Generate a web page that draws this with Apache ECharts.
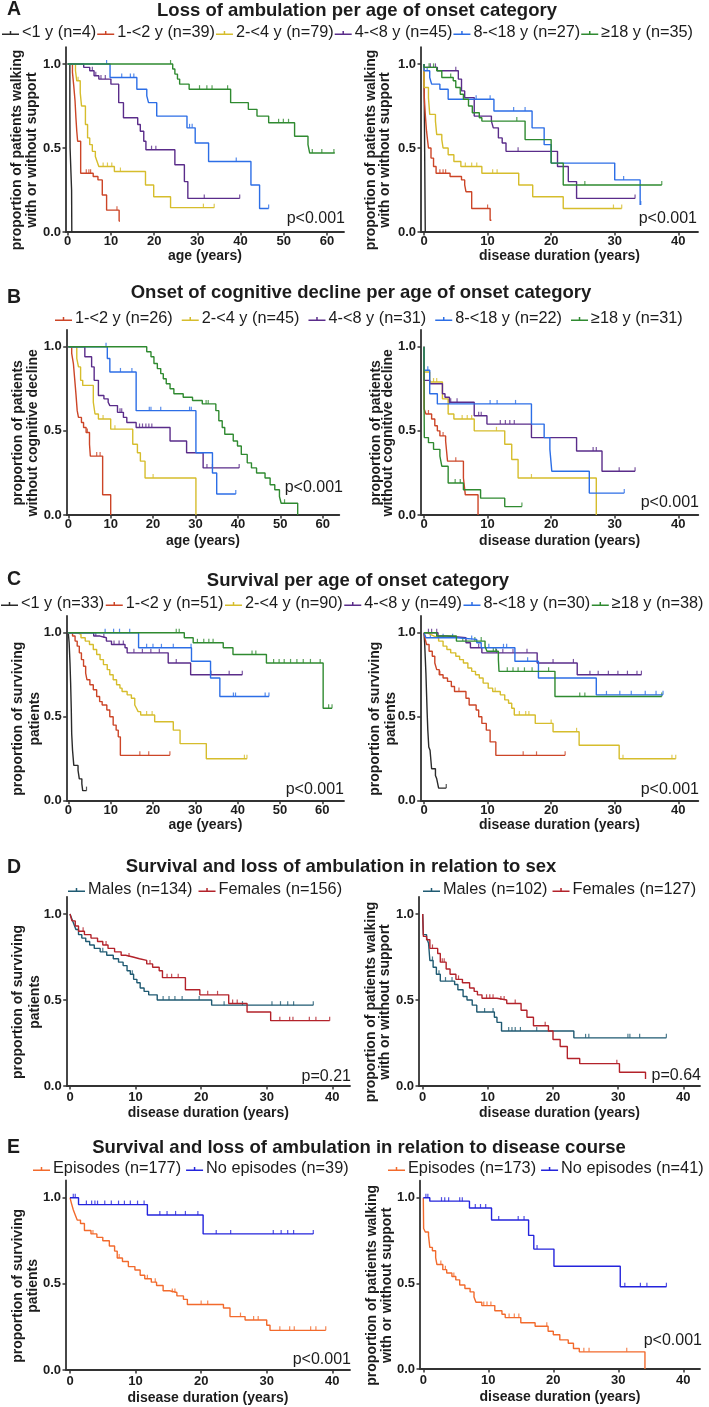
<!DOCTYPE html>
<html><head><meta charset="utf-8">
<script src="https://cdn.jsdelivr.net/npm/echarts@6/dist/echarts.min.js"></script>
<style>html,body{margin:0;padding:0;background:#fff}#c{width:709px;height:1407px}</style>
</head><body><div id="c"></div>
<script>
// ---------------- DATA ----------------
// legend labels
const namesA = ['<1 y (n=4)','1-<2 y (n=39)','2-<4 y (n=79)','4-<8 y (n=45)','8-<18 y (n=27)','\u226518 y (n=35)'];
const namesB = ['1-<2 y (n=26)','2-<4 y (n=45)','4-<8 y (n=31)','8-<18 y (n=22)','\u226518 y (n=31)'];
const namesC = ['<1 y (n=33)','1-<2 y (n=51)','2-<4 y (n=90)','4-<8 y (n=49)','8-<18 y (n=30)','\u226518 y (n=38)'];
const namesDL = ['Males (n=134)','Females (n=156)'];
const namesDR = ['Males (n=102)','Females (n=127)'];
const namesEL = ['Episodes (n=177)','No episodes (n=39)'];
const namesER = ['Episodes (n=173)','No episodes (n=41)'];
const ageTicks = [0,10,20,30,40,50,60];
const durTicks = [0,10,20,30,40];
const yTicks = [0,0.5,1];

// A - age (loss of ambulation)
const aAge_lt1 = [[0,1],[0.5,0.75],[0.55,0.5],[0.9,0.25],[0.95,0]];
const aAge_lt1_c = [];
const aAge_1to2 = [[0,1],[1.1,0.95],[1.4,0.87],[1.7,0.78],[1.9,0.68],[2.1,0.6],[2.3,0.54],[3.0,0.35],[5.9,0.33],[7.0,0.31],[8.0,0.22],[9.0,0.13],[11.9,0.065],[12.1,0.065]];
const aAge_1to2_c = [4.3,4.9,5.3,11.4];
const aAge_2to4 = [[0,1],[1.8,0.96],[2.1,0.9],[2.9,0.83],[3.2,0.75],[4.1,0.64],[4.6,0.56],[5.1,0.52],[5.7,0.48],[6.4,0.45],[6.8,0.42],[7.2,0.39],[10.8,0.36],[18.0,0.28],[19.9,0.21],[23.8,0.145],[33.9,0.145]];
const aAge_2to4_c = [2.4,8.2,9.2,10.2,12.2,31.4,33.9];
const aAge_4to8 = [[0,1],[3.7,0.98],[5.1,0.96],[6.1,0.93],[7.2,0.91],[10.0,0.88],[11.8,0.77],[12.9,0.68],[16.2,0.64],[16.8,0.6],[17.6,0.54],[18.1,0.49],[24.8,0.4],[27.0,0.3],[27.8,0.2],[39.8,0.2]];
const aAge_4to8_c = [5.7,6.5,7.7,8.7,19.4,20.4,31.6,39.8];
const aAge_8to18 = [[0,1],[9.8,0.92],[16.0,0.85],[18.3,0.81],[18.7,0.77],[20.6,0.69],[27.6,0.62],[29.5,0.53],[32.6,0.42],[42.4,0.28],[44.4,0.14],[46.5,0.14]];
const aAge_8to18_c = [9.0,12.5,14.5,15.3,28.2,28.8,39.0,46.5];
const aAge_ge18 = [[0,1],[24.3,0.97],[24.8,0.94],[25.4,0.91],[25.9,0.88],[28.1,0.85],[37.7,0.77],[41.8,0.73],[43.8,0.69],[46.5,0.65],[52.5,0.57],[55.6,0.52],[56.0,0.47],[61.8,0.47]];
const aAge_ge18_c = [23.8,30.5,32.2,33.4,37.0,48.8,49.9,51.1,56.6,58.8,61.6];

// A - disease duration
const aDur_lt1 = [[0,1],[0.05,0.75],[0.1,0.5],[0.15,0.25],[0.2,0]];
const aDur_lt1_c = [];
const aDur_1to2 = [[0,1],[0.05,0.8],[0.2,0.7],[0.4,0.6],[0.7,0.5],[1.1,0.44],[1.5,0.39],[1.9,0.35],[4.1,0.33],[5.9,0.31],[6.4,0.28],[6.6,0.24],[7.5,0.14],[10.4,0.07],[10.6,0.07]];
const aDur_1to2_c = [2.5,3.0,3.4,10.0];
const aDur_2to4 = [[0,1],[0.02,0.86],[0.7,0.8],[0.9,0.7],[1.8,0.66],[2.0,0.58],[2.8,0.55],[3.0,0.5],[3.8,0.46],[4.7,0.42],[5.8,0.39],[9.1,0.35],[14.9,0.28],[17.1,0.21],[21.9,0.14],[31.1,0.14]];
const aDur_2to4_c = [6.5,7.5,8.3,10.8,11.5,29.8,31.1];
const aDur_4to8 = [[0,1],[0.02,0.98],[2.1,0.96],[5.4,0.91],[5.9,0.84],[6.4,0.8],[7.9,0.69],[10.6,0.66],[10.9,0.62],[11.7,0.56],[12.3,0.53],[12.9,0.48],[21.0,0.39],[22.7,0.3],[24.0,0.2],[33.2,0.2]];
const aDur_4to8_c = [1.0,1.8,5.0,14.8,33.2];
const aDur_8to18 = [[0,1],[0.02,0.96],[0.9,0.92],[1.2,0.88],[2.5,0.85],[3.8,0.79],[11.0,0.72],[17.0,0.62],[18.9,0.52],[20.0,0.41],[30.0,0.31],[34.0,0.16],[34.1,0.16]];
const aDur_8to18_c = [0.5,8.2,10.4,14.1,15.9,31.4,34.1];
const aDur_ge18 = [[0,1],[0.02,0.98],[2.0,0.96],[2.8,0.92],[4.6,0.9],[5.0,0.86],[5.7,0.82],[6.2,0.79],[7.0,0.75],[7.6,0.71],[8.7,0.68],[9.1,0.66],[15.9,0.55],[20.0,0.41],[21.9,0.28],[37.4,0.28]];
const aDur_ge18_c = [0.8,1.5,4.2,14.6,25.3,37.4];

// B - age (cognitive decline)
const bAge_1to2 = [[0,1],[0.8,0.96],[1.2,0.9],[1.5,0.81],[1.8,0.72],[2.1,0.62],[2.4,0.58],[3.1,0.55],[3.6,0.52],[4.2,0.49],[5.0,0.42],[5.2,0.35],[8.1,0.12],[10.0,0]];
const bAge_1to2_c = [4.5,6.7,7.5];
const bAge_2to4 = [[0,1],[2.0,0.93],[2.4,0.88],[2.9,0.8],[3.4,0.77],[5.9,0.67],[6.3,0.6],[7.1,0.57],[10.0,0.51],[15.2,0.42],[16.3,0.37],[17.0,0.32],[18.1,0.22],[30.1,0]];
const bAge_2to4_c = [8.2,11.0,20.0];
const bAge_4to8 = [[0,1],[3.9,0.94],[5.5,0.88],[6.1,0.8],[7.1,0.71],[8.4,0.69],[9.4,0.67],[9.8,0.65],[11.6,0.61],[13.0,0.58],[13.8,0.55],[16.0,0.52],[24.0,0.44],[27.9,0.37],[31.8,0.28],[40.3,0.28]];
const bAge_4to8_c = [12.2,12.6,16.8,17.5,18.3,19.0,19.7,32.7,34.0,40.3];
const bAge_8to18 = [[0,1],[9.2,0.93],[9.8,0.85],[16.0,0.62],[30.1,0.37],[34.0,0.25],[35.0,0.125],[39.5,0.125]];
const bAge_8to18_c = [8.9,12.3,15.0,19.1,19.5,21.8,28.6,29.0,39.5];
const bAge_ge18 = [[0,1],[18.5,0.97],[19.5,0.94],[20.2,0.9],[21.0,0.87],[21.8,0.84],[22.4,0.81],[23.1,0.78],[24.0,0.75],[24.9,0.72],[27.1,0.7],[29.3,0.68],[31.6,0.66],[34.8,0.62],[35.5,0.56],[36.3,0.52],[36.9,0.48],[38.9,0.44],[39.9,0.41],[40.8,0.36],[42.2,0.31],[43.2,0.28],[44.4,0.25],[46.4,0.22],[47.6,0.18],[48.7,0.15],[49.8,0.11],[50.2,0.07],[54.1,0]];
const bAge_ge18_c = [32.5,33.0,51.0];

// B - disease duration
const bDur_1to2 = [[0,1],[0.02,0.63],[0.3,0.6],[1.2,0.57],[1.7,0.53],[2.1,0.5],[2.5,0.47],[3.4,0.44],[3.7,0.32],[6.2,0.22],[6.5,0.12],[8.5,0]];
const bDur_1to2_c = [0.7,3.0,5.0];
const bDur_2to4 = [[0,1],[0.02,0.85],[0.9,0.79],[2.9,0.69],[3.8,0.6],[4.7,0.57],[7.9,0.5],[12.7,0.42],[13.8,0.33],[14.8,0.22],[27.1,0]];
const bDur_2to4_c = [1.5,2.0,6.0,6.8,7.5,11.4,16.9];
const bDur_4to8 = [[0,1],[0.02,0.8],[0.9,0.78],[2.9,0.72],[3.3,0.7],[4.0,0.67],[7.9,0.59],[9.9,0.54],[16.9,0.46],[24.0,0.38],[28.0,0.26],[33.2,0.26]];
const bDur_4to8_c = [4.2,5.2,8.6,9.0,12.0,12.8,13.5,14.2,26.6,27.1,30.7,33.2];
const bDur_8to18 = [[0,1],[0.02,0.86],[0.9,0.72],[2.1,0.66],[16.9,0.54],[18.9,0.46],[19.8,0.39],[20.1,0.26],[26.0,0.13],[31.5,0.13]];
const bDur_8to18_c = [0.6,4.0,10.4,11.5,14.4,31.5];
const bDur_ge18 = [[0,1],[0.02,0.62],[0.05,0.46],[0.7,0.43],[1.5,0.39],[2.5,0.35],[2.8,0.29],[3.8,0.19],[6.2,0.15],[8.9,0.1],[12.7,0.05],[15.4,0.05]];
const bDur_ge18_c = [4.9,5.7,15.4];

// C - age (survival)
const cAge_lt1 = [[0,1],[0.2,0.94],[0.4,0.82],[0.55,0.7],[0.7,0.55],[0.8,0.4],[1.0,0.3],[1.3,0.21],[2.3,0.18],[2.6,0.13],[3.2,0.1],[3.4,0.06],[4.3,0.06]];
const cAge_lt1_c = [4.3];
const cAge_1to2 = [[0,1],[1.0,0.98],[1.6,0.95],[2.1,0.92],[2.6,0.88],[3.1,0.84],[3.6,0.8],[4.1,0.76],[4.4,0.72],[5.1,0.69],[5.9,0.66],[6.7,0.62],[7.4,0.59],[8.0,0.57],[9.1,0.54],[9.8,0.5],[10.6,0.45],[11.3,0.42],[11.8,0.38],[12.3,0.27],[24.0,0.27]];
const cAge_1to2_c = [16.9,19.0,24.0];
const cAge_2to4 = [[0,1],[2.0,0.99],[3.0,0.97],[4.0,0.95],[5.0,0.93],[5.9,0.9],[6.7,0.87],[7.5,0.84],[8.3,0.81],[9.2,0.78],[9.8,0.75],[10.6,0.72],[11.4,0.69],[12.2,0.67],[12.7,0.65],[13.9,0.63],[14.9,0.61],[15.7,0.57],[16.1,0.55],[16.5,0.53],[17.1,0.51],[20.4,0.47],[24.8,0.42],[26.4,0.34],[32.6,0.25],[42.2,0.25]];
const cAge_2to4_c = [18.5,19.8,41.6,42.2];
const cAge_4to8 = [[0,1],[6.0,0.98],[7.5,0.97],[9.0,0.95],[10.2,0.93],[13.4,0.91],[13.9,0.88],[23.6,0.82],[28.9,0.75],[41.1,0.75]];
const cAge_4to8_c = [6.5,8.4,10.8,12.0,13.0,15.5,17.5,19.5,21.5,25.5,33.7,38.0,41.1];
const cAge_8to18 = [[0,1],[16.6,0.91],[29.1,0.83],[33.6,0.73],[35.8,0.62],[47.4,0.62]];
const cAge_8to18_c = [8.7,10.7,12.1,14.5,18.5,20.0,22.0,24.8,29.0,39.0,39.5,46.5,47.4];
const cAge_ge18 = [[0,1],[27.4,0.97],[29.5,0.94],[36.6,0.91],[38.9,0.87],[46.8,0.82],[60.2,0.55],[62.3,0.55]];
const cAge_ge18_c = [25.5,26.2,30.5,32.0,33.2,34.2,43.4,44.3,48.5,49.8,51.0,52.5,54.0,55.5,57.2,59.5,61.5,62.3];

// C - disease duration
const cDur_lt1 = [[0,1],[0.1,0.94],[0.2,0.85],[0.3,0.76],[0.4,0.64],[0.5,0.52],[0.6,0.42],[0.75,0.32],[0.95,0.3],[1.2,0.19],[1.8,0.15],[2.0,0.13],[2.3,0.075],[3.5,0.075]];
const cDur_lt1_c = [3.5];
const cDur_1to2 = [[0,1],[0.2,0.96],[0.4,0.93],[0.8,0.89],[1.3,0.86],[1.7,0.82],[2.0,0.78],[2.4,0.75],[3.0,0.73],[3.7,0.71],[4.3,0.68],[4.8,0.65],[6.6,0.61],[7.1,0.57],[8.2,0.54],[8.6,0.5],[9.1,0.46],[9.8,0.42],[10.4,0.35],[11.3,0.27],[22.2,0.27]];
const cDur_1to2_c = [2.5,5.5,15.6,17.7,22.2];
const cDur_2to4 = [[0,1],[0.5,0.99],[1.0,0.98],[1.6,0.97],[2.3,0.95],[3.0,0.92],[3.6,0.9],[4.2,0.88],[5.0,0.86],[5.6,0.84],[6.2,0.82],[6.9,0.79],[7.5,0.77],[8.1,0.75],[8.7,0.73],[9.3,0.7],[10.1,0.67],[10.8,0.65],[12.0,0.63],[12.7,0.6],[13.3,0.58],[13.8,0.55],[14.2,0.51],[17.5,0.46],[20.3,0.41],[24.4,0.33],[30.7,0.25],[39.6,0.25]];
const cDur_2to4_c = [11.2,15.0,16.0,16.5,20.0,24.0,31.3,39.0,39.6];
const cDur_4to8 = [[0,1],[2.2,0.98],[3.6,0.97],[6.6,0.94],[7.3,0.91],[9.1,0.88],[17.8,0.82],[24.1,0.75],[34.2,0.75]];
const cDur_4to8_c = [0.7,1.2,2.0,8.6,11.4,12.4,14.0,16.2,20.3,23.5,26.1,27.4,29.0,30.5,32.0,33.5,34.2];
const cDur_8to18 = [[0,1],[0.3,0.97],[5.2,0.96],[8.3,0.94],[9.0,0.91],[14.3,0.83],[18.0,0.73],[27.1,0.63],[37.6,0.63]];
const cDur_8to18_c = [1.0,2.0,3.0,4.5,7.5,10.2,12.5,13.0,16.3,28.7,30.8,32.6,34.8,36.5,37.6];
const cDur_ge18 = [[0,1],[2.0,0.98],[5.1,0.95],[9.6,0.92],[9.9,0.89],[11.7,0.84],[11.8,0.77],[20.6,0.62],[37.4,0.62]];
const cDur_ge18_c = [6.1,8.0,9.0,10.9,11.3,13.1,14.0,14.8,15.8,17.0,19.6,24.5,25.3,37.4];

// D - survival by sex
const dSurv_m = [[0,1],[0.3,0.97],[0.6,0.94],[0.9,0.91],[1.3,0.88],[1.8,0.86],[2.4,0.84],[3.0,0.82],[3.7,0.8],[4.6,0.78],[5.6,0.76],[6.6,0.74],[7.4,0.72],[8.1,0.7],[8.7,0.67],[9.2,0.65],[9.7,0.62],[10.2,0.6],[10.7,0.57],[11.3,0.55],[12.0,0.53],[13.3,0.5],[21.6,0.47],[37.1,0.47]];
const dSurv_m_c = [5.0,9.5,14.2,15.1,16.0,17.1,19.7,23.5,26.3,30.8,32.1,33.2,34.1,37.1];
const dSurv_f = [[0,1],[0.3,0.96],[0.8,0.93],[1.3,0.9],[2.2,0.88],[3.2,0.86],[4.2,0.84],[5.0,0.82],[5.8,0.8],[6.8,0.78],[7.8,0.76],[8.5,0.75],[9.6,0.74],[10.6,0.73],[11.7,0.71],[12.6,0.69],[13.6,0.67],[14.1,0.63],[17.6,0.56],[19.8,0.53],[24.2,0.48],[27.0,0.43],[30.6,0.38],[39.6,0.38]];
const dSurv_f_c = [2.0,5.5,9.0,12.2,14.8,15.5,16.5,21.0,22.5,24.8,25.5,32.0,33.5,34.0,36.5,37.5,39.6];
// D - ambulation by sex
const dAmb_m = [[0,1],[0.1,0.88],[0.6,0.86],[0.9,0.83],[1.1,0.73],[1.6,0.69],[2.1,0.65],[2.7,0.61],[4.9,0.59],[5.4,0.56],[6.2,0.52],[6.8,0.5],[7.6,0.47],[8.3,0.43],[11.0,0.4],[11.4,0.37],[12.1,0.32],[23.2,0.28],[37.4,0.28]];
const dAmb_m_c = [1.5,2.5,3.5,4.5,9.5,10.8,13.2,13.7,14.2,15.0,17.5,25.0,25.5,31.5,31.8,33.3,37.4];
const dAmb_f = [[0,1],[0.1,0.87],[0.6,0.85],[1.1,0.8],[2.3,0.77],[2.7,0.72],[3.6,0.68],[4.2,0.65],[5.1,0.62],[6.1,0.6],[7.2,0.57],[7.9,0.55],[8.4,0.53],[9.1,0.51],[11.4,0.5],[12.9,0.48],[15.1,0.44],[16.0,0.4],[17.0,0.35],[19.3,0.32],[20.0,0.27],[21.1,0.23],[22.2,0.16],[24.1,0.13],[30.2,0.08],[34.2,0.04],[34.3,0.04]];
const dAmb_f_c = [1.5,3.0,3.3,5.5,9.8,10.3,10.8,12.0,12.5,14.2,18.8,29.8];

// E - survival by disease course
const eSurv_epi = [[0,1],[0.2,0.97],[0.5,0.93],[0.8,0.9],[1.1,0.87],[1.6,0.85],[2.2,0.81],[3.2,0.79],[4.1,0.77],[5.0,0.75],[6.0,0.72],[6.8,0.69],[7.2,0.65],[8.0,0.63],[8.9,0.6],[9.9,0.58],[10.7,0.55],[11.4,0.53],[12.4,0.51],[13.2,0.49],[14.2,0.46],[15.2,0.45],[16.3,0.43],[17.3,0.41],[17.9,0.38],[23.4,0.36],[24.4,0.31],[26.7,0.29],[30.0,0.26],[30.5,0.23],[39.0,0.23]];
const eSurv_epi_c = [3.5,7.5,11.8,13.0,15.6,16.0,20.0,21.0,26.0,28.0,28.7,32.0,33.5,34.2,36.7,37.5,39.0];
const eSurv_noepi = [[0,1],[1.3,0.96],[11.8,0.9],[20.3,0.79],[37.1,0.79]];
const eSurv_noepi_c = [0.5,0.8,2.5,3.3,3.8,4.2,5.3,6.3,7.4,8.3,9.2,10.3,11.3,13.7,14.8,16.1,17.6,19.5,22.3,24.5,31.0,32.2,33.2,34.1,37.1];
// E - ambulation by disease course
const eAmb_epi = [[0,1],[0.05,0.82],[0.3,0.8],[0.8,0.78],[1.0,0.71],[1.4,0.69],[1.9,0.65],[2.1,0.61],[3.0,0.58],[3.6,0.56],[4.4,0.54],[5.0,0.52],[5.6,0.49],[6.4,0.47],[7.2,0.45],[7.8,0.42],[8.1,0.39],[9.0,0.37],[11.0,0.34],[12.1,0.32],[12.6,0.3],[15.0,0.27],[17.2,0.25],[19.2,0.22],[20.0,0.2],[21.0,0.17],[22.3,0.15],[23.1,0.12],[24.0,0.1],[34.1,0]];
const eAmb_epi_c = [2.7,3.4,4.7,9.3,9.8,10.4,13.2,14.0,14.7,19.0,24.7,25.5,31.3];
const eAmb_noepi = [[0,1],[1.0,0.98],[7.1,0.94],[10.5,0.87],[16.2,0.78],[17.0,0.7],[20.1,0.6],[30.3,0.48],[37.4,0.48]];
const eAmb_noepi_c = [0.4,0.7,2.8,3.3,3.9,5.6,6.0,8.0,8.8,9.6,11.6,14.6,15.5,17.5,31.0,33.4,34.4,37.4];

// ---------------- STYLE / LAYOUT ----------------
const COL = {k:'#2a2a2a', r:'#cc4527', yl:'#d6bd2c', pu:'#5a2c8a', bl:'#2c6ee6', gr:'#2f8a30',
             male:'#1f5a72', female:'#b3222a', epi:'#f26a2c', noepi:'#2424dc'};
const FONT = '"Liberation Sans", Arial, Helvetica, sans-serif';
const TXT = '#1c1c1c';
const AX = '#333';

const yWalk = 'proportion of patients walking\nwith or without support';
const yCog = 'proportion of patients\nwithout cognitive decline';
const ySurv = 'proportion of surviving\npatients';

function curves(names, cols, datas, cens){
  return names.map((n,i)=>({name:n, color:cols[i], data:datas[i], cens:cens[i]}));
}
const colsAge6 = [COL.k,COL.r,COL.yl,COL.pu,COL.bl,COL.gr];
const colsAge5 = [COL.r,COL.yl,COL.pu,COL.bl,COL.gr];

const panels = [
 {left:66, x0:67.7, xt:327, xtv:60, end:344, y0:232, y1:64, ticks:ageTicks, xName:'age (years)', xGap:17, lblM:3,
  yName:yWalk, ynx:24.2, lh:15, p:'p<0.001', px:345, py:219,
  curves:curves(namesA, colsAge6, [aAge_lt1,aAge_1to2,aAge_2to4,aAge_4to8,aAge_8to18,aAge_ge18],[aAge_lt1_c,aAge_1to2_c,aAge_2to4_c,aAge_4to8_c,aAge_8to18_c,aAge_ge18_c])},
 {left:421, x0:424, xt:678.3, xtv:40, end:698, y0:232, y1:64, ticks:durTicks, xName:'disease duration (years)', xGap:17, lblM:3,
  yName:yWalk, ynx:378.3, lh:13.5, p:'p<0.001', px:697, py:219,
  curves:curves(namesA, colsAge6, [aDur_lt1,aDur_1to2,aDur_2to4,aDur_4to8,aDur_8to18,aDur_ge18],[aDur_lt1_c,aDur_1to2_c,aDur_2to4_c,aDur_4to8_c,aDur_8to18_c,aDur_ge18_c])},
 {left:66.7, x0:68.3, xt:322.7, xtv:60, end:339.3, y0:515, y1:346.7, ticks:ageTicks, xName:'age (years)', xGap:19, lblM:3,
  yName:yCog, ynx:25.5, lh:15, p:'p<0.001', px:343, py:488,
  curves:curves(namesB, colsAge5, [bAge_1to2,bAge_2to4,bAge_4to8,bAge_8to18,bAge_ge18],[bAge_1to2_c,bAge_2to4_c,bAge_4to8_c,bAge_8to18_c,bAge_ge18_c])},
 {left:421, x0:424, xt:678.3, xtv:40, end:698.3, y0:515, y1:346.7, ticks:durTicks, xName:'disease duration (years)', xGap:19, lblM:3,
  yName:yCog, ynx:382.2, lh:12.5, p:'p<0.001', px:699, py:503,
  curves:curves(namesB, colsAge5, [bDur_1to2,bDur_2to4,bDur_4to8,bDur_8to18,bDur_ge18],[bDur_1to2_c,bDur_2to4_c,bDur_4to8_c,bDur_8to18_c,bDur_ge18_c])},
 {left:66.7, x0:68.3, xt:322.3, xtv:60, end:344, y0:800.7, y1:632.7, ticks:ageTicks, xName:'age (years)', xGap:17, lblM:3,
  yName:ySurv, ynx:26.7, lh:16.5, p:'p<0.001', px:344, py:790,
  curves:curves(namesC, colsAge6, [cAge_lt1,cAge_1to2,cAge_2to4,cAge_4to8,cAge_8to18,cAge_ge18],[cAge_lt1_c,cAge_1to2_c,cAge_2to4_c,cAge_4to8_c,cAge_8to18_c,cAge_ge18_c])},
 {left:420.7, x0:424, xt:678.3, xtv:40, end:698.3, y0:800.7, y1:632.7, ticks:durTicks, xName:'disease duration (years)', xGap:17, lblM:3,
  yName:ySurv, ynx:383.3, lh:16.5, p:'p<0.001', px:699, py:790,
  curves:curves(namesC, colsAge6, [cDur_lt1,cDur_1to2,cDur_2to4,cDur_4to8,cDur_8to18,cDur_ge18],[cDur_lt1_c,cDur_1to2_c,cDur_2to4_c,cDur_4to8_c,cDur_8to18_c,cDur_ge18_c])},
 {left:66.7, x0:70, xt:332.3, xtv:40, end:350, y0:1086, y1:914, ticks:durTicks, xName:'disease duration (years)', xGap:20, lblM:4.5,
  yName:ySurv, ynx:26.7, lh:16.5, p:'p=0.21', px:351, py:1077,
  curves:curves(namesDL, [COL.male,COL.female], [dSurv_m,dSurv_f],[dSurv_m_c,dSurv_f_c])},
 {left:419, x0:422.7, xt:683.3, xtv:40, end:700, y0:1086, y1:914, ticks:durTicks, xName:'disease duration (years)', xGap:20, lblM:4.5,
  yName:yWalk, ynx:378.3, lh:13.5, p:'p=0.64', px:701, py:1076,
  curves:curves(namesDR, [COL.male,COL.female], [dAmb_m,dAmb_f],[dAmb_m_c,dAmb_f_c])},
 {left:66, x0:70, xt:332.3, xtv:40, end:350, y0:1370, y1:1197.7, ticks:durTicks, xName:'disease duration (years)', xGap:21, lblM:4.5,
  yName:ySurv, ynx:25.8, lh:15, p:'p<0.001', px:351, py:1360,
  curves:curves(namesEL, [COL.epi,COL.noepi], [eSurv_epi,eSurv_noepi],[eSurv_epi_c,eSurv_noepi_c])},
 {left:420, x0:423.3, xt:683.3, xtv:40, end:700, y0:1369, y1:1197.7, ticks:durTicks, xName:'disease duration (years)', xGap:21, lblM:4.5,
  yName:yWalk, ynx:379.2, lh:15, p:'p<0.001', px:702, py:1341,
  curves:curves(namesER, [COL.epi,COL.noepi], [eAmb_epi,eAmb_noepi],[eAmb_epi_c,eAmb_noepi_c])}
];

const legends = [
 {names:namesA, left:2, top:25, gap:1},
 {names:namesB, left:55, top:311, gap:9},
 {names:namesC, left:1, top:596, gap:1.5},
 {names:namesDL, left:68, top:882, gap:6},
 {names:namesDR, left:423, top:882, gap:5},
 {names:namesEL, left:33, top:1161, gap:5},
 {names:namesER, left:388, top:1161, gap:5}
];

const titles = [
 {t:'Loss of ambulation per age of onset category', x:357, y:11, L:'A', ly:10},
 {t:'Onset of cognitive decline per age of onset category', x:361, y:293, L:'B', ly:298},
 {t:'Survival per age of onset category', x:358, y:581, L:'C', ly:580},
 {t:'Survival and loss of ambulation in relation to sex', x:341, y:867, L:'D', ly:868},
 {t:'Survival and loss of ambulation in relation to disease course', x:359, y:1148, L:'E', ly:1148}
];

function stepAt(d,t){let s=d[0][1];for(const p of d){if(p[0]<=t+1e-9)s=p[1];else break;}return s;}

const grid=[],xAxis=[],yAxis=[],series=[],graphic=[];
panels.forEach((p,i)=>{
  const scale=(p.xt-p.x0)/p.xtv;
  const h=p.y0-p.y1;
  grid.push({left:p.left, top:p.y1-0.1*h, width:p.end-p.left, height:1.1*h, containLabel:false});
  xAxis.push({type:'value', gridIndex:i, min:-(p.x0-p.left)/scale, max:(p.end-p.x0)/scale,
    axisLine:{show:true, onZero:false, lineStyle:{color:AX,width:1.8}},
    axisTick:{show:true, customValues:p.ticks, length:3.5, lineStyle:{color:AX,width:1.5}},
    axisLabel:{customValues:p.ticks, margin:p.lblM, fontSize:13, fontWeight:'bold', color:TXT, fontFamily:FONT},
    splitLine:{show:false},
    name:p.xName, nameLocation:'middle', nameGap:p.xGap,
    nameTextStyle:{fontSize:14, fontWeight:'bold', color:TXT, fontFamily:FONT}});
  yAxis.push({type:'value', gridIndex:i, min:0, max:1.1,
    axisLine:{show:true, onZero:false, lineStyle:{color:AX,width:1.8}},
    axisTick:{show:true, customValues:yTicks, length:3.5, lineStyle:{color:AX,width:1.5}},
    axisLabel:{customValues:yTicks, margin:5, fontSize:13, fontWeight:'bold', color:TXT, fontFamily:FONT,
      formatter:v=>Number(v).toFixed(1)},
    splitLine:{show:false}});
  p.curves.forEach(c=>{
    series.push({type:'line', name:c.name, xAxisIndex:i, yAxisIndex:i, data:c.data, step:'end',
      showSymbol:false, symbol:'none', lineStyle:{color:c.color,width:1.4}, itemStyle:{color:c.color},
      animation:false, silent:true});
    if(c.cens.length) series.push({type:'scatter', name:'cens'+i+c.name, xAxisIndex:i, yAxisIndex:i,
      data:c.cens.map(t=>[t,stepAt(c.data,t)]), symbol:'rect', symbolSize:[1.2,4], symbolOffset:[0,-2],
      itemStyle:{color:c.color}, animation:false, silent:true});
  });
  graphic.push({type:'text', x:p.ynx, y:p.y0-0.5*h+2, rotation:Math.PI/2,
    style:{text:p.yName, font:'bold 14px '+FONT, fill:TXT, align:'center', verticalAlign:'middle', lineHeight:p.lh}});
  graphic.push({type:'text', x:p.px, y:p.py,
    style:{text:p.p, font:'16px '+FONT, fill:TXT, align:'right', verticalAlign:'middle'}});
});
titles.forEach(t=>{
  graphic.push({type:'text', x:t.x, y:t.y, style:{text:t.t, font:'bold 18.5px '+FONT, fill:TXT, align:'center', verticalAlign:'middle'}});
  graphic.push({type:'text', x:7, y:t.ly, style:{text:t.L, font:'bold 19.5px '+FONT, fill:TXT, align:'left', verticalAlign:'middle'}});
});

const legendIcon='path://M0,2.6 L16,2.6 L16,4 L0,4 Z M7.3,0 L8.7,0 L8.7,2.6 L7.3,2.6 Z';
const legend = legends.map(l=>({data:l.names, left:l.left, top:l.top, width:900, orient:'horizontal', icon:legendIcon,
  itemWidth:17, itemHeight:4, itemGap:l.gap, selectedMode:false, padding:0, symbolKeepAspect:false,
  textStyle:{fontSize:16.3, color:TXT, fontFamily:FONT, padding:[0,0,0,-2]}}));

const chart = echarts.init(document.getElementById('c'), null, {renderer:'canvas'});
chart.setOption({animation:false, backgroundColor:'#fff', textStyle:{fontFamily:FONT},
  grid, xAxis, yAxis, series, legend, graphic});
</script></body></html>
